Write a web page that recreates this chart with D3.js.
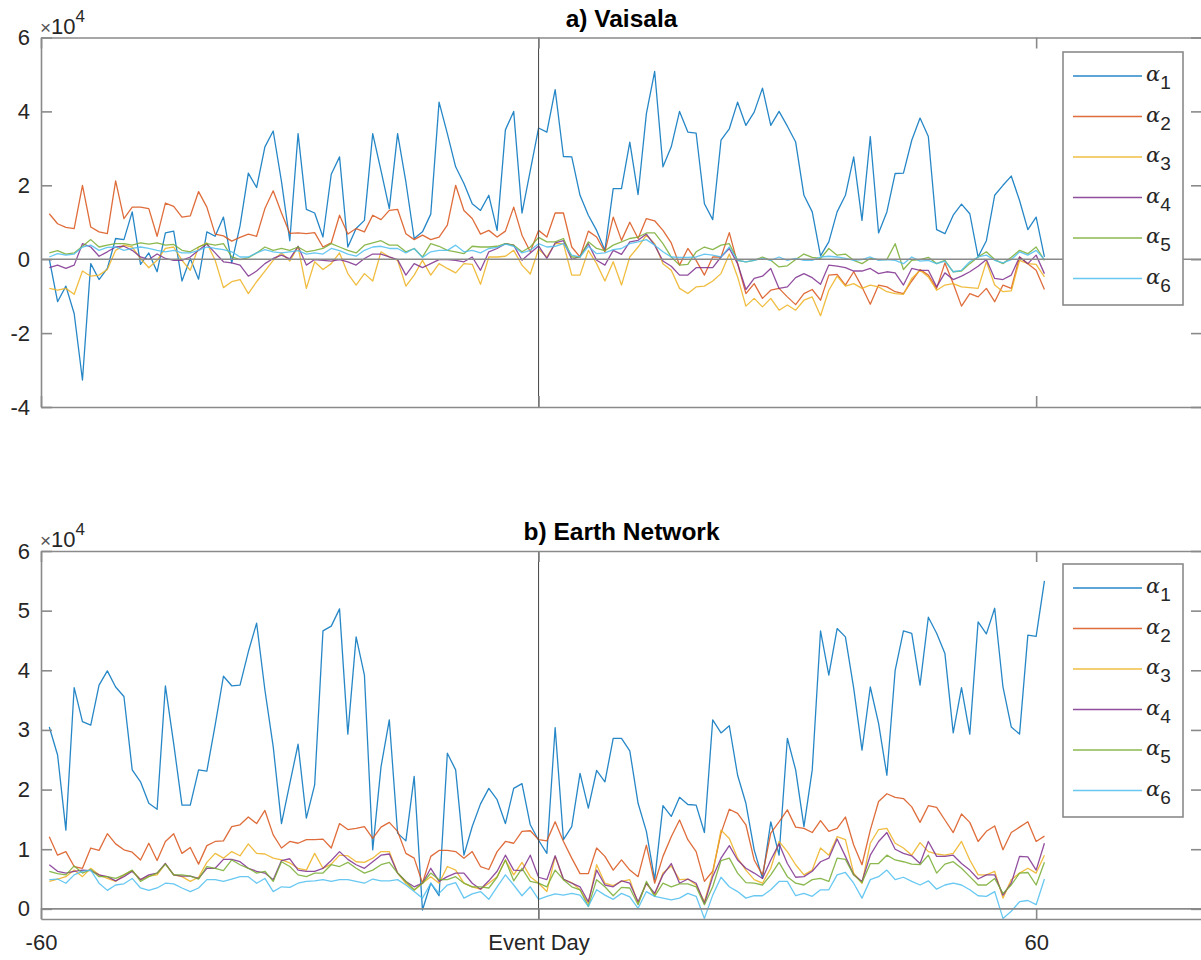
<!DOCTYPE html>
<html>
<head>
<meta charset="utf-8">
<script src="https://cdn.jsdelivr.net/npm/d3@7"></script>
<style>
	body { margin: 0; background: #fff; }
	svg { display: block; font-family: "Liberation Sans", Arial, Helvetica, sans-serif; }
</style>
</head>
<body>
<svg id="chart" width="1201" height="960"></svg>
<script>
// days relative to the event, one sample per day
const days = d3.range(-59, 62)
const seriesLabels = ["1", "2", "3", "4", "5", "6"]
const colors = ["#0072BD", "#D95319", "#EDB120", "#7E2F8E", "#77AC30", "#4DBEEE"]
const xTicks = [-60, 0, 60]
const xTickLabels = {"-60": "-60", "0": "Event Day", "60": "60"}
const vaisalaTicks = [-4, -2, 0, 2, 4, 6]
const earthTicks = [0, 1, 2, 3, 4, 5, 6]

// a) Vaisala, values in units of 1e4
const vaisalaA1 = [
	0.00, -1.15, -0.73, -1.47, -3.27, -0.12, -0.55, -0.25, 0.56, 0.53,
	1.28, -0.14, 0.17, -0.34, 0.71, 0.76, -0.59, 0.02, -0.54, 0.74,
	0.62, 1.14, -0.10, 0.90, 2.33, 1.94, 3.04, 3.47, 2.10, 0.50,
	3.40, 1.35, 1.25, 0.60, 2.30, 2.77, 0.33, 0.83, 1.05, 3.40,
	2.40, 1.37, 3.40, 2.09, 0.56, 0.74, 1.22, 4.25, 3.40, 2.50,
	2.05, 1.50, 1.32, 1.73, 0.78, 3.50, 4.00, 1.25, 2.40, 3.55,
	3.44, 4.59, 2.78, 2.77, 1.73, 1.19, 0.78, 0.24, 1.91, 1.91,
	3.17, 1.75, 3.94, 5.08, 2.50, 3.04, 4.00, 3.44, 3.41, 1.50,
	1.07, 3.22, 3.53, 4.25, 3.62, 3.98, 4.63, 3.62, 4.00, 3.60,
	3.17, 1.73, 1.28, 0.09, 0.47, 1.28, 1.73, 2.77, 1.05, 3.32,
	0.71, 1.28, 2.32, 2.33, 3.22, 3.82, 3.32, 0.80, 0.69, 1.19,
	1.49, 1.23, 0.06, 0.50, 1.73, 2.00, 2.25, 1.59, 0.80, 1.14,
	0.06]
const vaisalaA2 = [
	1.23, 0.96, 0.86, 0.83, 2.00, 0.87, 0.74, 0.69, 2.12, 1.10,
	1.41, 1.41, 1.37, 0.62, 1.52, 1.43, 1.14, 1.17, 1.83, 1.41,
	0.68, 0.63, 0.49, 0.59, 0.68, 0.62, 1.37, 1.85, 1.25, 0.70,
	0.71, 0.69, 0.72, 0.33, 0.44, 1.19, 0.68, 0.83, 0.74, 1.19,
	1.07, 1.32, 1.35, 0.69, 0.53, 0.65, 0.53, 0.60, 0.92, 2.00,
	1.32, 1.10, 0.68, 0.78, 0.60, 0.76, 1.41, 0.65, 0.20, 0.78,
	0.60, 1.25, 1.25, 0.33, 0.06, 0.76, 0.60, 0.20, 1.14, 0.51,
	1.00, 0.56, 1.10, 1.04, 0.78, 0.44, -0.16, 0.29, -0.03, -0.43,
	0.06, 0.06, 0.72, -0.12, -0.93, -0.66, -1.06, -0.84, -0.79, -1.02,
	-1.23, -0.93, -0.82, -1.11, -0.43, -0.41, -0.70, -0.34, -0.75, -1.22,
	-0.70, -0.75, -0.88, -0.93, -0.59, -0.28, -0.43, -0.79, -0.10, -0.66,
	-1.27, -0.93, -1.02, -0.79, -1.15, -0.70, -0.79, 0.06, -0.12, -0.30,
	-0.82]
const vaisalaA3 = [
	-0.79, -0.84, -0.79, -0.95, -0.32, -0.46, -0.43, -0.28, 0.24, 0.38,
	0.33, 0.02, -0.23, -0.03, 0.29, 0.33, -0.03, -0.30, 0.33, 0.44,
	-0.03, -0.77, -0.61, -0.55, -0.93, -0.61, -0.32, -0.03, 0.17, -0.05,
	0.33, -0.79, -0.07, -0.28, -0.12, 0.17, -0.39, -0.70, -0.39, -0.59,
	0.20, 0.06, -0.03, -0.73, -0.43, -0.03, -0.43, -0.12, -0.25, -0.37,
	-0.12, -0.14, -0.68, 0.06, 0.06, 0.08, 0.24, -0.16, -0.40, 0.27,
	0.06, 0.42, 0.42, -0.43, -0.43, 0.24, -0.12, -0.59, -0.07, -0.70,
	0.06, 0.33, 0.65, 0.42, -0.12, -0.30, -0.79, -0.93, -0.75, -0.73,
	-0.59, -0.39, 0.14, -0.48, -1.27, -1.06, -1.29, -1.06, -1.38, -1.24,
	-1.38, -1.11, -1.02, -1.53, -0.84, -0.46, -0.73, -0.66, -0.79, -0.70,
	-0.75, -0.88, -0.93, -0.95, -0.52, -0.30, -0.48, -0.84, -0.70, -0.66,
	-0.75, -0.77, -0.79, -0.07, -0.70, -0.88, -0.86, -0.03, -0.12, -0.14,
	-0.48]
const vaisalaA4 = [
	-0.23, -0.16, -0.25, -0.16, 0.42, 0.33, 0.08, 0.20, 0.33, 0.35,
	0.24, 0.06, -0.01, 0.14, 0.02, -0.03, -0.03, 0.06, 0.24, 0.41,
	0.17, -0.07, -0.10, -0.16, -0.46, -0.32, -0.12, 0.02, 0.11, 0.01,
	0.35, -0.16, -0.01, -0.03, -0.05, -0.01, -0.07, -0.16, 0.02, 0.14,
	0.14, 0.06, -0.01, -0.43, -0.12, -0.23, -0.12, -0.01, -0.01, -0.03,
	-0.07, 0.06, -0.30, 0.20, 0.29, 0.42, 0.38, -0.03, 0.17, 0.36,
	0.02, 0.44, 0.50, -0.01, 0.08, 0.42, -0.03, -0.16, 0.24, 0.13,
	0.47, 0.51, 0.68, 0.38, -0.05, -0.19, -0.43, -0.43, -0.23, -0.23,
	-0.23, 0.06, 0.29, -0.12, -0.82, -0.52, -0.46, -0.25, -0.79, -0.75,
	-0.50, -0.39, -0.50, -0.68, -0.16, -0.19, -0.23, -0.32, -0.32, -0.25,
	-0.39, -0.34, -0.37, -0.70, -0.25, -0.30, -0.30, -0.75, -0.37, -0.55,
	-0.46, -0.34, -0.19, -0.01, -0.52, -0.55, -0.43, 0.06, -0.12, 0.11,
	-0.39]
const vaisalaA5 = [
	0.17, 0.23, 0.14, 0.17, 0.35, 0.53, 0.33, 0.38, 0.42, 0.42,
	0.38, 0.44, 0.41, 0.44, 0.38, 0.40, 0.24, 0.20, 0.33, 0.42,
	0.38, 0.42, 0.06, -0.01, 0.04, 0.17, 0.33, 0.24, 0.29, 0.24,
	0.33, 0.20, 0.24, 0.29, 0.42, 0.33, 0.24, 0.17, 0.38, 0.44,
	0.50, 0.38, 0.38, 0.20, 0.29, 0.06, 0.42, 0.35, 0.24, 0.20,
	0.15, 0.35, 0.33, 0.33, 0.35, 0.42, 0.38, 0.20, 0.33, 0.59,
	0.47, 0.47, 0.56, 0.06, 0.06, 0.47, 0.29, 0.23, 0.38, 0.47,
	0.56, 0.60, 0.71, 0.71, 0.42, 0.06, -0.16, -0.14, 0.20, 0.33,
	0.26, 0.38, 0.42, -0.03, -0.07, -0.03, 0.06, -0.03, -0.21, -0.18,
	-0.01, 0.14, 0.05, 0.02, 0.29, 0.11, 0.14, -0.03, -0.12, 0.02,
	-0.01, -0.01, 0.42, -0.28, -0.03, -0.01, 0.05, -0.12, -0.03, -0.34,
	-0.32, -0.12, 0.06, 0.20, -0.01, -0.12, 0.05, 0.24, 0.15, 0.33,
	-0.03]
const vaisalaA6 = [
	0.06, 0.15, 0.11, 0.14, 0.33, 0.38, 0.24, 0.32, 0.33, 0.24,
	0.29, 0.33, 0.29, 0.24, 0.20, 0.24, 0.17, 0.17, 0.24, 0.33,
	0.29, 0.26, 0.20, 0.06, 0.06, 0.17, 0.26, 0.20, 0.17, 0.20,
	0.23, 0.14, 0.17, 0.14, 0.29, 0.23, 0.14, 0.08, 0.24, 0.33,
	0.35, 0.29, 0.29, 0.17, 0.29, 0.05, 0.20, 0.24, 0.24, 0.38,
	0.20, 0.24, 0.17, 0.29, 0.32, 0.41, 0.35, 0.17, 0.24, 0.42,
	0.33, 0.35, 0.42, 0.11, 0.06, 0.35, 0.15, 0.17, 0.26, 0.29,
	0.42, 0.47, 0.53, 0.38, 0.20, 0.06, 0.05, 0.05, 0.06, 0.14,
	0.11, 0.06, 0.33, -0.03, -0.07, -0.03, 0.02, -0.03, 0.06, -0.03,
	0.02, -0.03, -0.03, 0.06, 0.08, 0.06, 0.02, -0.03, -0.01, 0.06,
	-0.03, -0.01, -0.03, -0.12, 0.06, -0.05, -0.03, -0.12, -0.05, -0.34,
	-0.30, -0.07, 0.06, 0.11, -0.03, -0.10, -0.01, 0.20, 0.11, 0.24,
	-0.01]

// b) Earth Network, values in units of 1e4
const earthA1 = [
	3.05, 2.58, 1.32, 3.71, 3.14, 3.08, 3.75, 3.99, 3.72, 3.56,
	2.33, 2.13, 1.77, 1.67, 3.74, 2.77, 1.74, 1.74, 2.33, 2.31,
	3.08, 3.90, 3.74, 3.75, 4.31, 4.79, 3.67, 2.72, 1.43, 2.10,
	2.76, 1.52, 2.08, 4.66, 4.74, 5.03, 2.93, 4.56, 3.92, 0.99,
	2.38, 3.17, 1.27, 1.14, 2.22, -0.02, 0.43, 0.22, 2.61, 2.33,
	0.90, 1.38, 1.76, 2.02, 1.83, 1.43, 2.02, 2.10, 1.41, 1.15,
	0.93, 3.04, 1.16, 1.38, 2.27, 1.69, 2.32, 2.13, 2.86, 2.86,
	2.65, 1.77, 1.30, 0.49, 1.73, 1.55, 1.87, 1.75, 1.74, 1.28,
	3.17, 2.95, 3.07, 2.24, 1.77, 0.99, 0.51, 1.46, 0.90, 2.86,
	2.33, 1.38, 2.33, 4.66, 3.92, 4.70, 4.56, 3.70, 2.66, 3.72,
	3.11, 2.24, 4.00, 4.66, 4.62, 3.75, 4.89, 4.62, 4.28, 2.95,
	3.71, 2.93, 4.81, 4.61, 5.04, 3.72, 3.05, 2.93, 4.59, 4.57,
	5.50]
const earthA2 = [
	1.21, 0.90, 0.96, 0.71, 0.68, 1.02, 0.98, 1.26, 1.09, 0.99,
	0.95, 0.82, 1.10, 0.81, 1.13, 1.26, 0.93, 1.03, 0.75, 1.06,
	1.13, 1.14, 1.38, 1.41, 1.54, 1.43, 1.65, 1.24, 1.02, 1.13,
	1.10, 1.16, 1.16, 1.17, 1.02, 1.43, 1.33, 1.35, 1.38, 1.18,
	1.37, 1.45, 1.30, 0.93, 0.85, 0.43, 0.88, 0.98, 0.98, 0.96,
	0.85, 0.96, 0.71, 0.66, 0.96, 1.13, 1.10, 1.30, 1.31, 1.16,
	1.14, 1.46, 1.13, 0.85, 0.59, 0.59, 1.02, 0.88, 0.65, 0.82,
	0.65, 0.54, 1.07, 0.43, 0.88, 1.21, 1.49, 1.16, 0.96, 0.46,
	0.63, 1.27, 1.67, 1.60, 1.41, 0.82, 0.57, 1.27, 1.46, 1.66,
	1.37, 1.35, 1.28, 1.48, 1.30, 1.35, 1.54, 1.07, 0.74, 1.32,
	1.80, 1.93, 1.87, 1.85, 1.71, 1.45, 1.73, 1.70, 1.49, 1.28,
	1.59, 1.45, 1.13, 1.30, 1.39, 0.99, 1.28, 1.37, 1.46, 1.13,
	1.22]
const earthA3 = [
	0.46, 0.50, 0.54, 0.65, 0.54, 0.68, 0.57, 0.51, 0.46, 0.57,
	0.64, 0.49, 0.55, 0.57, 0.76, 0.57, 0.54, 0.46, 0.53, 0.78,
	0.93, 0.85, 0.96, 0.89, 1.09, 0.93, 0.92, 0.85, 0.82, 0.77,
	0.68, 0.65, 0.93, 0.68, 0.75, 0.90, 0.89, 0.79, 0.78, 0.85,
	0.96, 0.96, 0.60, 0.43, 0.31, 0.43, 0.54, 0.43, 0.71, 0.65,
	0.43, 0.37, 0.33, 0.43, 0.54, 0.82, 0.57, 0.78, 0.54, 0.43,
	0.29, 0.88, 0.49, 0.44, 0.32, 0.09, 0.74, 0.43, 0.39, 0.46,
	0.49, 0.09, 0.43, 0.23, 0.60, 0.72, 0.49, 0.50, 0.40, 0.12,
	0.60, 1.32, 1.18, 0.85, 0.65, 0.49, 0.43, 0.68, 1.13, 0.96,
	0.74, 0.57, 0.65, 1.02, 0.90, 1.21, 1.16, 0.60, 0.43, 1.10,
	1.33, 1.35, 1.10, 1.02, 0.90, 1.11, 0.96, 0.92, 0.90, 0.93,
	1.13, 0.82, 0.57, 0.57, 0.63, 0.18, 0.49, 0.60, 0.68, 0.60,
	0.90]
const earthA4 = [
	0.74, 0.63, 0.60, 0.63, 0.65, 0.64, 0.57, 0.54, 0.47, 0.54,
	0.63, 0.49, 0.57, 0.60, 0.76, 0.57, 0.55, 0.55, 0.51, 0.68,
	0.68, 0.83, 0.83, 0.79, 0.68, 0.63, 0.60, 0.49, 0.81, 0.84,
	0.65, 0.63, 0.63, 0.68, 0.81, 0.96, 0.83, 0.74, 0.68, 0.79,
	0.90, 0.92, 0.60, 0.46, 0.37, 0.43, 0.68, 0.46, 0.54, 0.60,
	0.60, 0.43, 0.33, 0.47, 0.63, 0.90, 0.65, 0.64, 0.90, 0.53,
	0.49, 0.89, 0.50, 0.43, 0.37, 0.12, 0.65, 0.40, 0.37, 0.47,
	0.43, 0.12, 0.43, 0.26, 0.57, 0.76, 0.43, 0.50, 0.43, 0.09,
	0.54, 0.85, 1.06, 0.82, 0.68, 0.60, 0.51, 0.82, 1.09, 0.76,
	0.53, 0.54, 0.63, 0.79, 0.85, 1.17, 0.88, 0.57, 0.46, 0.90,
	1.13, 1.28, 1.00, 0.93, 0.89, 0.76, 1.13, 0.88, 0.88, 0.90,
	0.76, 0.65, 0.50, 0.57, 0.57, 0.23, 0.43, 0.88, 0.87, 0.65,
	1.10]
const earthA5 = [
	0.63, 0.59, 0.57, 0.72, 0.60, 0.66, 0.54, 0.54, 0.51, 0.57,
	0.65, 0.46, 0.54, 0.60, 0.75, 0.57, 0.57, 0.55, 0.50, 0.71,
	0.68, 0.64, 0.82, 0.74, 0.68, 0.60, 0.63, 0.46, 0.79, 0.71,
	0.57, 0.54, 0.60, 0.60, 0.74, 0.71, 0.78, 0.68, 0.60, 0.65,
	0.74, 0.78, 0.60, 0.46, 0.32, 0.43, 0.60, 0.49, 0.49, 0.54,
	0.43, 0.37, 0.37, 0.35, 0.53, 0.82, 0.47, 0.68, 0.46, 0.43,
	0.37, 0.65, 0.49, 0.37, 0.32, 0.04, 0.49, 0.37, 0.22, 0.36,
	0.35, 0.07, 0.46, 0.21, 0.43, 0.37, 0.42, 0.42, 0.37, 0.07,
	0.37, 0.81, 0.85, 0.60, 0.44, 0.43, 0.40, 0.57, 0.78, 0.54,
	0.43, 0.40, 0.49, 0.51, 0.46, 0.85, 0.83, 0.57, 0.44, 0.76,
	0.76, 0.90, 0.82, 0.79, 0.75, 0.74, 0.90, 0.60, 0.75, 0.79,
	0.68, 0.54, 0.40, 0.40, 0.51, 0.26, 0.40, 0.60, 0.61, 0.40,
	0.78]
const earthA6 = [
	0.49, 0.50, 0.43, 0.57, 0.63, 0.65, 0.43, 0.31, 0.40, 0.42,
	0.51, 0.35, 0.31, 0.35, 0.43, 0.42, 0.35, 0.29, 0.35, 0.49,
	0.49, 0.46, 0.50, 0.54, 0.54, 0.43, 0.51, 0.29, 0.37, 0.36,
	0.43, 0.46, 0.47, 0.49, 0.46, 0.49, 0.49, 0.46, 0.43, 0.50,
	0.47, 0.47, 0.49, 0.40, 0.29, 0.18, 0.43, 0.26, 0.40, 0.44,
	0.18, 0.25, 0.29, 0.16, 0.37, 0.57, 0.40, 0.22, 0.37, 0.16,
	0.21, 0.25, 0.23, 0.26, 0.23, 0.04, 0.32, 0.23, 0.16, 0.26,
	0.20, 0.01, 0.29, 0.21, 0.18, 0.15, 0.18, 0.26, 0.21, -0.16,
	0.23, 0.53, 0.37, 0.29, 0.18, 0.22, 0.22, 0.32, 0.46, 0.46,
	0.22, 0.26, 0.21, 0.32, 0.32, 0.57, 0.61, 0.43, 0.18, 0.49,
	0.54, 0.65, 0.49, 0.53, 0.46, 0.40, 0.47, 0.33, 0.40, 0.43,
	0.40, 0.32, 0.22, 0.21, 0.29, -0.16, -0.04, 0.12, 0.14, 0.07,
	0.50]

const svg = d3.select("#chart")
const axisColor = "#262626"
const boxColor = "#8a8a8a"
const tickFont = 22
const x = d3.scaleLinear().domain([-60, 80]).range([41, 1202])

function styleAxis(sel) {
	sel.select(".domain").attr("stroke", boxColor).attr("stroke-width", 1.6)
	sel.selectAll(".tick line").attr("stroke", boxColor).attr("stroke-width", 1.6)
	sel.selectAll(".tick text").attr("fill", axisColor).attr("font-size", tickFont)
		.attr("font-family", "Liberation Sans, Arial, sans-serif")
}

function drawPanel(p) {
	const [x0, x1] = x.range()
	const y = d3.scaleLinear().domain(p.yDomain).range([p.bottom, p.top])
	const g = svg.append("g").attr("class", "panel")

	svg.append("clipPath").attr("id", "clip-" + p.id)
		.append("rect")
		.attr("x", x0).attr("y", p.top)
		.attr("width", x1 - x0).attr("height", p.bottom - p.top)

	const line = d3.line()
		.x((d, i) => x(days[i]))
		.y(d => y(d))
	g.append("g")
		.attr("clip-path", "url(#clip-" + p.id + ")")
		.selectAll("path")
		.data(p.series)
		.join("path")
		.attr("fill", "none")
		.attr("stroke", (d, i) => colors[i])
		.attr("stroke-width", 1.3)
		.attr("stroke-opacity", 0.85)
		.attr("stroke-linejoin", "round")
		.attr("d", line)

	// zero line and event-day marker
	g.append("line")
		.attr("x1", x0).attr("x2", x1)
		.attr("y1", y(0)).attr("y2", y(0))
		.attr("stroke", boxColor).attr("stroke-width", 1.6)
	g.append("line")
		.attr("x1", x(0)).attr("x2", x(0))
		.attr("y1", p.top).attr("y2", p.bottom)
		.attr("stroke", "#444").attr("stroke-width", 1)

	// box axes, ticks pointing inward like MATLAB
	g.append("g")
		.attr("transform", "translate(" + x0 + ",0)")
		.call(d3.axisLeft(y).tickValues(p.yTicks).tickFormat(d => String(d))
			.tickSizeInner(-11).tickSizeOuter(0).tickPadding(11))
		.call(styleAxis)
	g.append("g")
		.attr("transform", "translate(" + x1 + ",0)")
		.call(d3.axisRight(y).tickValues(p.yTicks).tickFormat("")
			.tickSizeInner(-11).tickSizeOuter(0))
		.call(styleAxis)
	g.append("g")
		.attr("transform", "translate(0," + p.top + ")")
		.call(d3.axisTop(x).tickValues(xTicks).tickFormat("")
			.tickSizeInner(-11).tickSizeOuter(0))
		.call(styleAxis)
	g.append("g")
		.attr("transform", "translate(0," + p.bottom + ")")
		.call(d3.axisBottom(x).tickValues(xTicks)
			.tickFormat(d => p.showX ? xTickLabels[d] : "")
			.tickSizeInner(-11).tickSizeOuter(0).tickPadding(15))
		.call(styleAxis)

	// exponent label
	const ex = svg.append("text")
		.attr("x", x0 - 1).attr("y", p.top - 4)
		.attr("font-size", 22).attr("fill", axisColor)
	ex.append("tspan").attr("font-size", 19).attr("fill", "#555").text("\u00d7")
	ex.append("tspan").text("10")
	ex.append("tspan").attr("dy", -12).attr("font-size", 17).text("4")

	// title
	svg.append("text")
		.attr("x", (x0 + x1) / 2).attr("y", p.top - 11)
		.attr("text-anchor", "middle")
		.attr("font-weight", "bold").attr("font-size", 24.5)
		.attr("fill", "#000")
		.text(p.title)

	// legend
	const leg = svg.append("g").attr("transform", "translate(1063," + p.legTop + ")")
	leg.append("rect")
		.attr("width", 120).attr("height", 253)
		.attr("fill", "#fff").attr("stroke", boxColor).attr("stroke-width", 1.6)
	const item = leg.selectAll("g.item")
		.data(seriesLabels)
		.join("g")
		.attr("class", "item")
		.attr("transform", (d, i) => "translate(0," + (24 + i * 40.5) + ")")
	item.append("line")
		.attr("x1", 10).attr("x2", 79)
		.attr("stroke", (d, i) => colors[i]).attr("stroke-width", 1.3)
		.attr("stroke-opacity", 0.85)
	const lt = item.append("text")
		.attr("x", 83).attr("y", 5)
		.attr("fill", axisColor)
	lt.append("tspan")
		.attr("font-family", "DejaVu Serif, Liberation Serif, serif")
		.attr("font-style", "italic").attr("font-size", 21)
		.text("\u03b1")
	lt.append("tspan")
		.attr("dy", 8).attr("font-size", 19)
		.text(d => d)
}

drawPanel({
	id: "a", title: "a) Vaisala",
	top: 37.5, bottom: 407,
	yDomain: [-4, 6], yTicks: vaisalaTicks,
	series: [vaisalaA1, vaisalaA2, vaisalaA3, vaisalaA4, vaisalaA5, vaisalaA6],
	legTop: 52, showX: false
})
drawPanel({
	id: "b", title: "b) Earth Network",
	top: 551, bottom: 919,
	yDomain: [-0.17, 6], yTicks: earthTicks,
	series: [earthA1, earthA2, earthA3, earthA4, earthA5, earthA6],
	legTop: 564, showX: true
})
</script>
</body>
</html>
